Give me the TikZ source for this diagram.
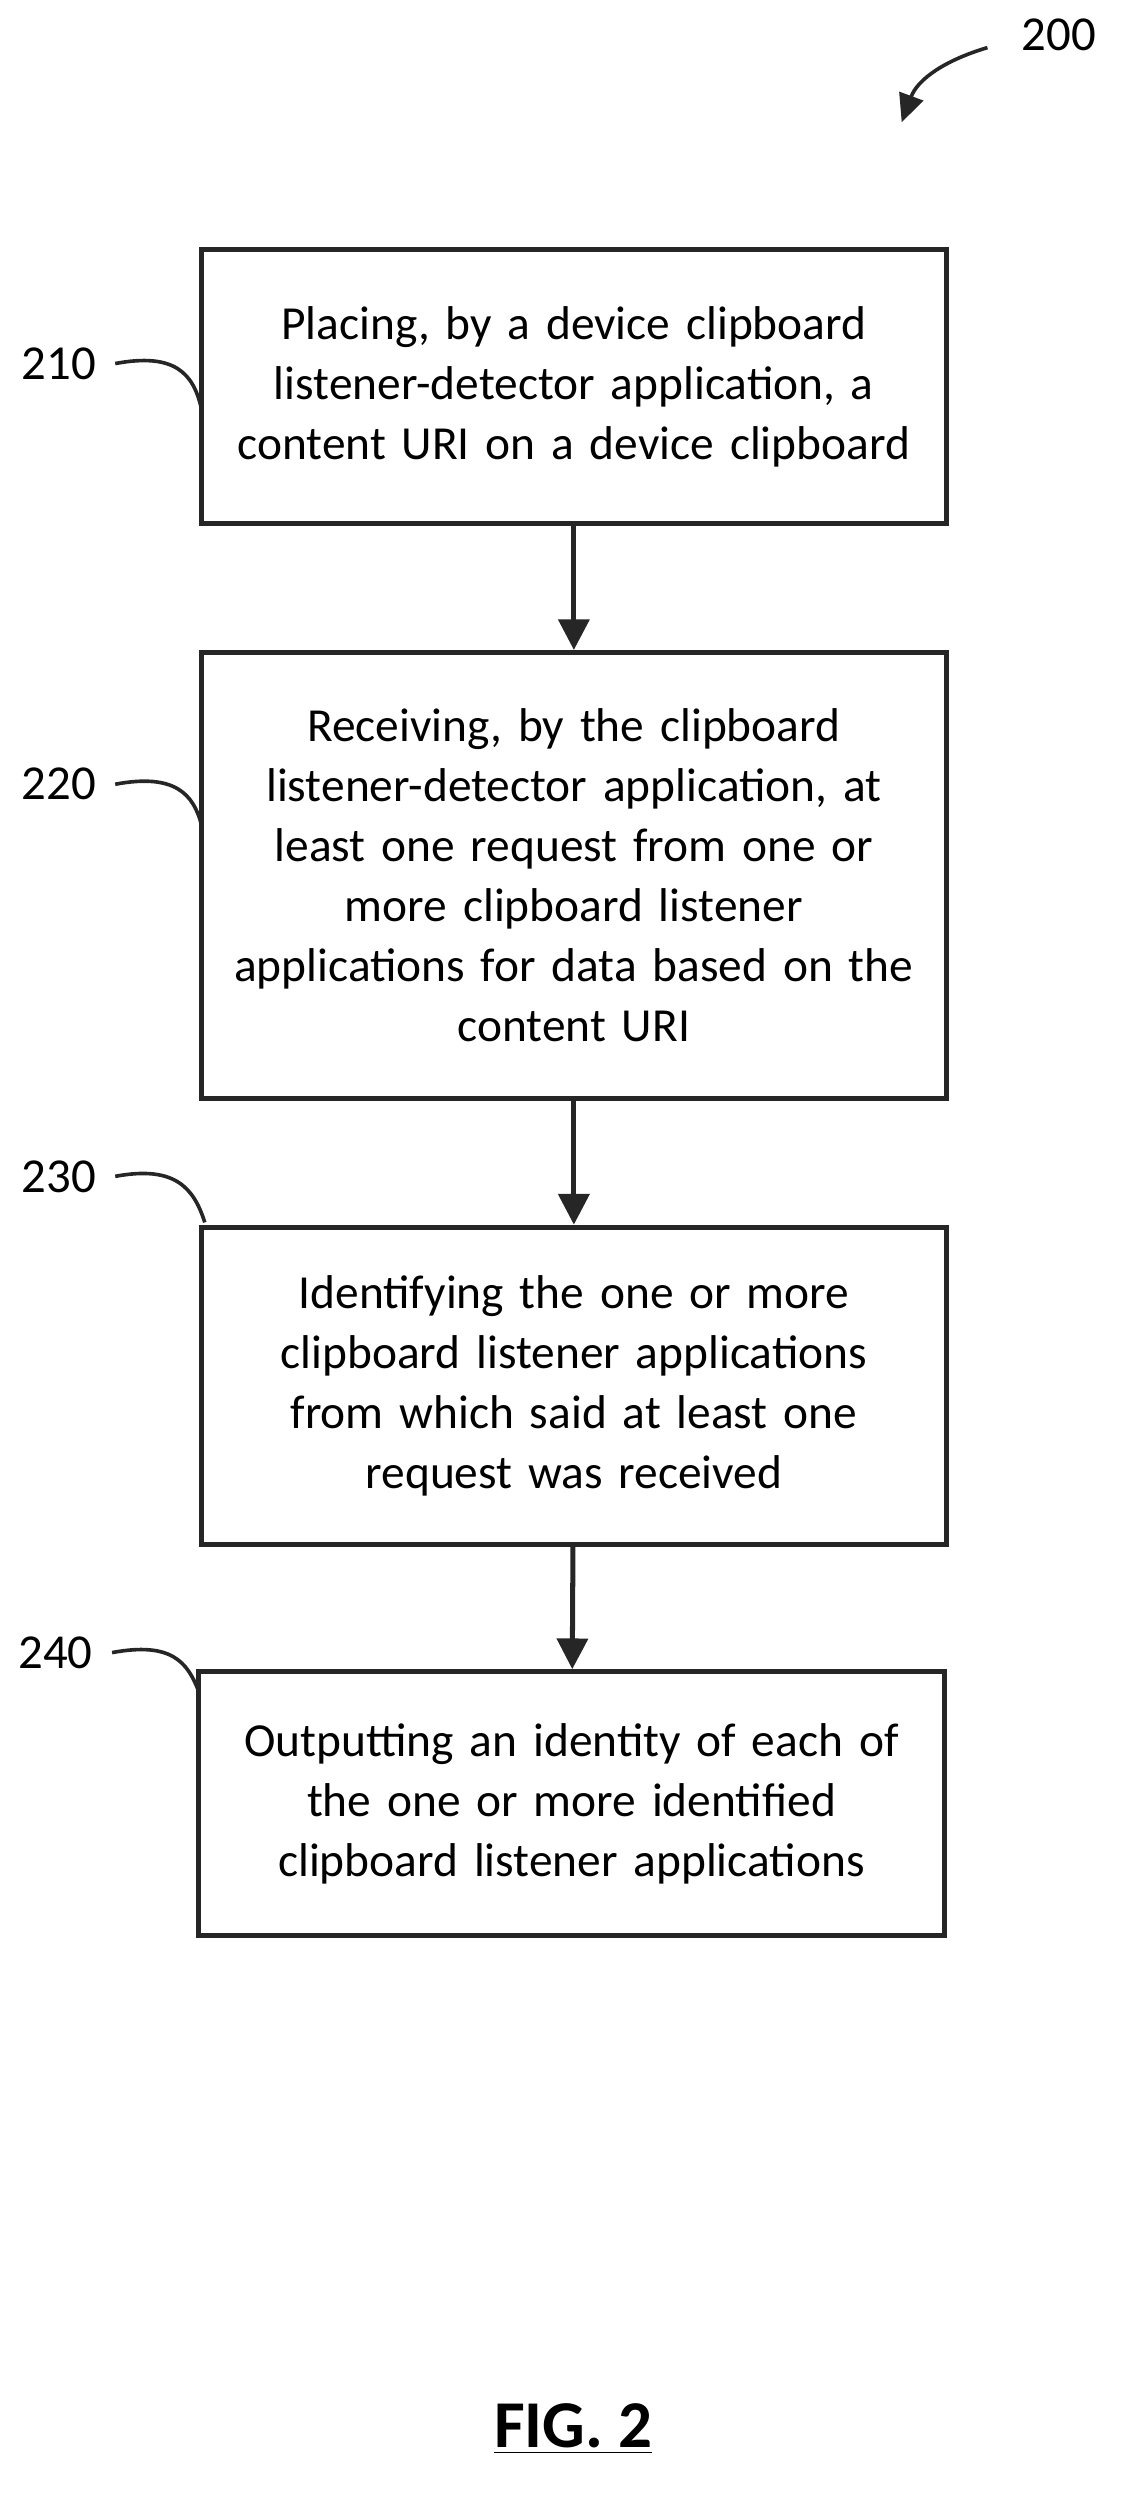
\documentclass[tikz,border=0pt]{standalone}
\usepackage{fontspec}
\setmainfont{Carlito}
\usetikzlibrary{arrows.meta}
\tikzset{
  stage/.style={draw=black!85, line width=1.8pt, align=center, text width=9.2cm,
    font=\fontsize{17}{21.5}\selectfont, inner sep=0pt},
  flow/.style={draw=black!85, line width=1.8pt, -{Triangle[length=11pt,width=11pt]}},
  tag/.style={font=\fontsize{17.5}{22}\selectfont},
  lead/.style={draw=black!85, line width=1.3pt}
}
\begin{document}
\begin{tikzpicture}[x=0.02cm, y=-0.02cm]
  \useasboundingbox (0,0) rectangle (711,1583);
  % process steps
  \node[stage, minimum width=469*0.02cm, minimum height=173*0.02cm] (s210) at (361.5,243.5)
    {Placing, by a device clipboard\\ listener-detector application, a\\ content URI on a device clipboard};
  \node[stage, minimum width=469*0.02cm, minimum height=281*0.02cm] (s220) at (361.5,551.5)
    {Receiving, by the clipboard\\ listener-detector application, at\\ least one request from one or\\ more clipboard listener\\ applications for data based on the\\ content URI};
  \node[stage, minimum width=469*0.02cm, minimum height=200*0.02cm] (s230) at (361.5,873)
    {Identifying the one or more\\ clipboard listener applications\\ from which said at least one\\ request was received};
  \node[stage, minimum width=470*0.02cm, minimum height=166*0.02cm] (s240) at (360,1136)
    {Outputting an identity of each of\\ the one or more identified\\ clipboard listener applications};
  \draw[flow] (s210) -- (s220);
  \draw[flow] (s220) -- (s230);
  \draw[flow] (s230) -- (s240);
  % reference numerals
  \node[tag] (n210) at (37,229) {210};
  \node[tag] (n220) at (37,494) {220};
  \node[tag] (n230) at (37,741) {230};
  \node[tag] (n240) at (35,1041) {240};
  \draw[lead] (n210.east) ++(6,0) .. controls (110,222) and (122,235) .. (127,258);
  \draw[lead] (n220.east) ++(6,0) .. controls (110,487) and (122,500) .. (127,520);
  \draw[lead] (n230.east) ++(6,0) .. controls (110,734) and (122,748) .. (129,770);
  \draw[lead] (n240.east) ++(6,0) .. controls (108,1034) and (118,1047) .. (125,1065);
  \node[tag] (n200) at (667,22) {200};
  \draw[lead, -{Triangle[length=10pt,width=9pt]}] (622,30) .. controls (595,38) and (578,50) .. (568,77);
  \node[font=\fontsize{24}{28}\selectfont\bfseries] (fig) at (361,1530) {\underline{FIG. 2}};
\end{tikzpicture}
\end{document}
